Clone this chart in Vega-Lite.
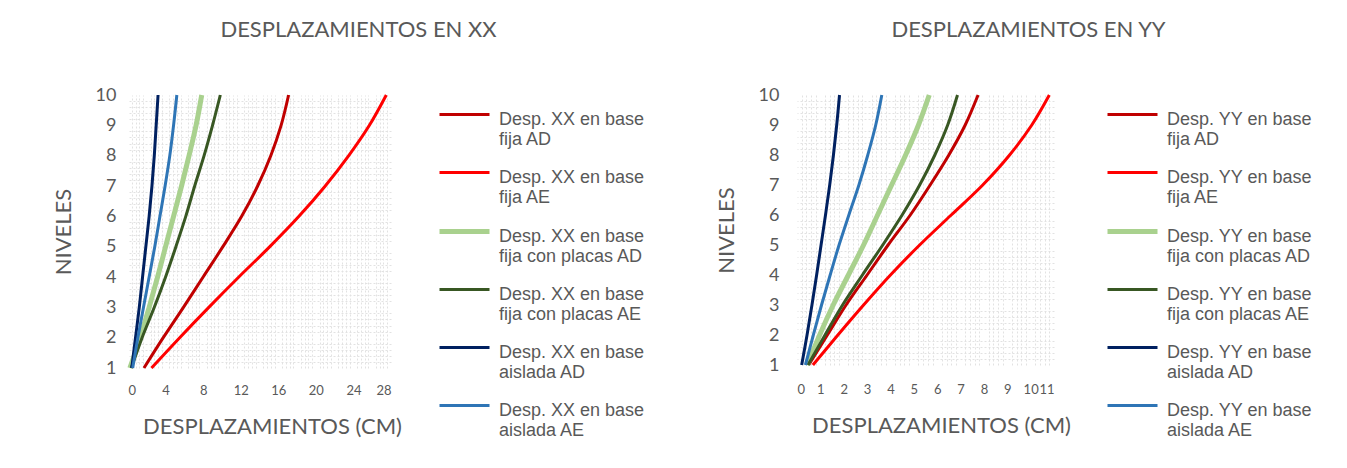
{
  "$schema": "https://vega.github.io/schema/vega-lite/v6.json",
  "background": "white",
  "padding": {"left": 52, "top": 19, "right": 0, "bottom": 0},
  "config": {
    "view": {"stroke": null},
    "font": "Lato",
    "title": {"font": "Lato", "fontSize": 22, "fontWeight": "normal", "color": "#595959", "anchor": "middle", "offset": 43},
    "axis": {
      "domain": false, "ticks": false,
      "gridColor": "#D9D9D9", "gridWidth": 1,
      "labelFont": "Lato", "labelColor": "#595959",
      "titleFont": "Lato", "titleFontSize": 22, "titleFontWeight": "normal", "titleColor": "#595959"
    },
    "legend": {
      "title": null, "orient": "none",
      "symbolType": "M-1,-0.2L1,-0.2", "symbolSize": 2500, "symbolStrokeWidth": 3,
      "labelFont": "Liberation Sans", "labelFontSize": 18, "labelColor": "#595959",
      "labelOffset": 7, "labelLimit": 300, "labelBaseline": "middle",
      "rowPadding": 2, "padding": 0
    }
  },
  "datasets": {
    "xx": [
      {"serie": "Desp. XX en base fija AD", "nivel": 1, "d": 1.7},
      {"serie": "Desp. XX en base fija AD", "nivel": 2, "d": 3.75},
      {"serie": "Desp. XX en base fija AD", "nivel": 3, "d": 5.9},
      {"serie": "Desp. XX en base fija AD", "nivel": 4, "d": 8.0},
      {"serie": "Desp. XX en base fija AD", "nivel": 5, "d": 10.1},
      {"serie": "Desp. XX en base fija AD", "nivel": 6, "d": 12.1},
      {"serie": "Desp. XX en base fija AD", "nivel": 7, "d": 13.8},
      {"serie": "Desp. XX en base fija AD", "nivel": 8, "d": 15.2},
      {"serie": "Desp. XX en base fija AD", "nivel": 9, "d": 16.3},
      {"serie": "Desp. XX en base fija AD", "nivel": 10, "d": 17.1},
      {"serie": "Desp. XX en base fija AE", "nivel": 1, "d": 2.5},
      {"serie": "Desp. XX en base fija AE", "nivel": 2, "d": 5.5},
      {"serie": "Desp. XX en base fija AE", "nivel": 3, "d": 8.6},
      {"serie": "Desp. XX en base fija AE", "nivel": 4, "d": 11.8},
      {"serie": "Desp. XX en base fija AE", "nivel": 5, "d": 15.1},
      {"serie": "Desp. XX en base fija AE", "nivel": 6, "d": 18.2},
      {"serie": "Desp. XX en base fija AE", "nivel": 7, "d": 21.0},
      {"serie": "Desp. XX en base fija AE", "nivel": 8, "d": 23.5},
      {"serie": "Desp. XX en base fija AE", "nivel": 9, "d": 25.7},
      {"serie": "Desp. XX en base fija AE", "nivel": 10, "d": 27.5},
      {"serie": "Desp. XX en base fija con placas AD", "nivel": 1, "d": 0.2},
      {"serie": "Desp. XX en base fija con placas AD", "nivel": 2, "d": 1.3},
      {"serie": "Desp. XX en base fija con placas AD", "nivel": 3, "d": 2.25},
      {"serie": "Desp. XX en base fija con placas AD", "nivel": 4, "d": 3.15},
      {"serie": "Desp. XX en base fija con placas AD", "nivel": 5, "d": 4.0},
      {"serie": "Desp. XX en base fija con placas AD", "nivel": 6, "d": 4.85},
      {"serie": "Desp. XX en base fija con placas AD", "nivel": 7, "d": 5.7},
      {"serie": "Desp. XX en base fija con placas AD", "nivel": 8, "d": 6.5},
      {"serie": "Desp. XX en base fija con placas AD", "nivel": 9, "d": 7.25},
      {"serie": "Desp. XX en base fija con placas AD", "nivel": 10, "d": 7.85},
      {"serie": "Desp. XX en base fija con placas AE", "nivel": 1, "d": 0.35},
      {"serie": "Desp. XX en base fija con placas AE", "nivel": 2, "d": 1.5},
      {"serie": "Desp. XX en base fija con placas AE", "nivel": 3, "d": 2.8},
      {"serie": "Desp. XX en base fija con placas AE", "nivel": 4, "d": 4.0},
      {"serie": "Desp. XX en base fija con placas AE", "nivel": 5, "d": 5.1},
      {"serie": "Desp. XX en base fija con placas AE", "nivel": 6, "d": 6.15},
      {"serie": "Desp. XX en base fija con placas AE", "nivel": 7, "d": 7.1},
      {"serie": "Desp. XX en base fija con placas AE", "nivel": 8, "d": 8.1},
      {"serie": "Desp. XX en base fija con placas AE", "nivel": 9, "d": 9.0},
      {"serie": "Desp. XX en base fija con placas AE", "nivel": 10, "d": 9.83},
      {"serie": "Desp. XX en base aislada AD", "nivel": 1, "d": 0.4},
      {"serie": "Desp. XX en base aislada AD", "nivel": 2, "d": 0.8},
      {"serie": "Desp. XX en base aislada AD", "nivel": 3, "d": 1.2},
      {"serie": "Desp. XX en base aislada AD", "nivel": 4, "d": 1.55},
      {"serie": "Desp. XX en base aislada AD", "nivel": 5, "d": 1.9},
      {"serie": "Desp. XX en base aislada AD", "nivel": 6, "d": 2.25},
      {"serie": "Desp. XX en base aislada AD", "nivel": 7, "d": 2.55},
      {"serie": "Desp. XX en base aislada AD", "nivel": 8, "d": 2.8},
      {"serie": "Desp. XX en base aislada AD", "nivel": 9, "d": 3.0},
      {"serie": "Desp. XX en base aislada AD", "nivel": 10, "d": 3.2},
      {"serie": "Desp. XX en base aislada AE", "nivel": 1, "d": 0.5},
      {"serie": "Desp. XX en base aislada AE", "nivel": 2, "d": 1.05},
      {"serie": "Desp. XX en base aislada AE", "nivel": 3, "d": 1.65},
      {"serie": "Desp. XX en base aislada AE", "nivel": 4, "d": 2.25},
      {"serie": "Desp. XX en base aislada AE", "nivel": 5, "d": 2.85},
      {"serie": "Desp. XX en base aislada AE", "nivel": 6, "d": 3.4},
      {"serie": "Desp. XX en base aislada AE", "nivel": 7, "d": 3.95},
      {"serie": "Desp. XX en base aislada AE", "nivel": 8, "d": 4.45},
      {"serie": "Desp. XX en base aislada AE", "nivel": 9, "d": 4.85},
      {"serie": "Desp. XX en base aislada AE", "nivel": 10, "d": 5.2}
    ],
    "yy": [
      {"serie": "Desp. YY en base fija AD", "nivel": 1, "d": 0.5},
      {"serie": "Desp. YY en base fija AD", "nivel": 2, "d": 1.3},
      {"serie": "Desp. YY en base fija AD", "nivel": 3, "d": 2.1},
      {"serie": "Desp. YY en base fija AD", "nivel": 4, "d": 3.0},
      {"serie": "Desp. YY en base fija AD", "nivel": 5, "d": 3.9},
      {"serie": "Desp. YY en base fija AD", "nivel": 6, "d": 4.85},
      {"serie": "Desp. YY en base fija AD", "nivel": 7, "d": 5.7},
      {"serie": "Desp. YY en base fija AD", "nivel": 8, "d": 6.5},
      {"serie": "Desp. YY en base fija AD", "nivel": 9, "d": 7.2},
      {"serie": "Desp. YY en base fija AD", "nivel": 10, "d": 7.75},
      {"serie": "Desp. YY en base fija AE", "nivel": 1, "d": 0.68},
      {"serie": "Desp. YY en base fija AE", "nivel": 2, "d": 1.75},
      {"serie": "Desp. YY en base fija AE", "nivel": 3, "d": 2.85},
      {"serie": "Desp. YY en base fija AE", "nivel": 4, "d": 4.0},
      {"serie": "Desp. YY en base fija AE", "nivel": 5, "d": 5.25},
      {"serie": "Desp. YY en base fija AE", "nivel": 6, "d": 6.6},
      {"serie": "Desp. YY en base fija AE", "nivel": 7, "d": 7.95},
      {"serie": "Desp. YY en base fija AE", "nivel": 8, "d": 9.1},
      {"serie": "Desp. YY en base fija AE", "nivel": 9, "d": 10.05},
      {"serie": "Desp. YY en base fija AE", "nivel": 10, "d": 10.8},
      {"serie": "Desp. YY en base fija con placas AD", "nivel": 1, "d": 0.44},
      {"serie": "Desp. YY en base fija con placas AD", "nivel": 2, "d": 0.97},
      {"serie": "Desp. YY en base fija con placas AD", "nivel": 3, "d": 1.55},
      {"serie": "Desp. YY en base fija con placas AD", "nivel": 4, "d": 2.2},
      {"serie": "Desp. YY en base fija con placas AD", "nivel": 5, "d": 2.85},
      {"serie": "Desp. YY en base fija con placas AD", "nivel": 6, "d": 3.45},
      {"serie": "Desp. YY en base fija con placas AD", "nivel": 7, "d": 4.05},
      {"serie": "Desp. YY en base fija con placas AD", "nivel": 8, "d": 4.65},
      {"serie": "Desp. YY en base fija con placas AD", "nivel": 9, "d": 5.2},
      {"serie": "Desp. YY en base fija con placas AD", "nivel": 10, "d": 5.66},
      {"serie": "Desp. YY en base fija con placas AE", "nivel": 1, "d": 0.47},
      {"serie": "Desp. YY en base fija con placas AE", "nivel": 2, "d": 1.2},
      {"serie": "Desp. YY en base fija con placas AE", "nivel": 3, "d": 1.95},
      {"serie": "Desp. YY en base fija con placas AE", "nivel": 4, "d": 2.8},
      {"serie": "Desp. YY en base fija con placas AE", "nivel": 5, "d": 3.67},
      {"serie": "Desp. YY en base fija con placas AE", "nivel": 6, "d": 4.5},
      {"serie": "Desp. YY en base fija con placas AE", "nivel": 7, "d": 5.25},
      {"serie": "Desp. YY en base fija con placas AE", "nivel": 8, "d": 5.9},
      {"serie": "Desp. YY en base fija con placas AE", "nivel": 9, "d": 6.45},
      {"serie": "Desp. YY en base fija con placas AE", "nivel": 10, "d": 6.87},
      {"serie": "Desp. YY en base aislada AD", "nivel": 1, "d": 0.2},
      {"serie": "Desp. YY en base aislada AD", "nivel": 2, "d": 0.43},
      {"serie": "Desp. YY en base aislada AD", "nivel": 3, "d": 0.64},
      {"serie": "Desp. YY en base aislada AD", "nivel": 4, "d": 0.84},
      {"serie": "Desp. YY en base aislada AD", "nivel": 5, "d": 1.03},
      {"serie": "Desp. YY en base aislada AD", "nivel": 6, "d": 1.22},
      {"serie": "Desp. YY en base aislada AD", "nivel": 7, "d": 1.4},
      {"serie": "Desp. YY en base aislada AD", "nivel": 8, "d": 1.56},
      {"serie": "Desp. YY en base aislada AD", "nivel": 9, "d": 1.7},
      {"serie": "Desp. YY en base aislada AD", "nivel": 10, "d": 1.82},
      {"serie": "Desp. YY en base aislada AE", "nivel": 1, "d": 0.36},
      {"serie": "Desp. YY en base aislada AE", "nivel": 2, "d": 0.7},
      {"serie": "Desp. YY en base aislada AE", "nivel": 3, "d": 1.05},
      {"serie": "Desp. YY en base aislada AE", "nivel": 4, "d": 1.42},
      {"serie": "Desp. YY en base aislada AE", "nivel": 5, "d": 1.8},
      {"serie": "Desp. YY en base aislada AE", "nivel": 6, "d": 2.22},
      {"serie": "Desp. YY en base aislada AE", "nivel": 7, "d": 2.65},
      {"serie": "Desp. YY en base aislada AE", "nivel": 8, "d": 3.03},
      {"serie": "Desp. YY en base aislada AE", "nivel": 9, "d": 3.37},
      {"serie": "Desp. YY en base aislada AE", "nivel": 10, "d": 3.63}
    ]
  },
  "hconcat": [
    {
      "width": 263,
      "height": 273,
      "title": {"text": "DESPLAZAMIENTOS EN XX", "dx": 99},
      "data": {"name": "xx"},
      "layer": [
        {
          "mark": {"type": "line", "strokeOpacity": 0},
          "encoding": {
            "x": {"field": "d", "type": "quantitative", "scale": {"domain": [0, 28], "nice": false},
              "axis": {"orient": "top", "title": null, "labels": false, "gridColor": "#E2E2E2", "gridDash": [2, 2],
                "values": [0.4,0.8,1.2,1.6,2.4,2.8,3.2,3.6,4.4,4.8,5.2,5.6,6.4,6.8,7.2,7.6,8.4,8.8,9.2,9.6,10.4,10.8,11.2,11.6,12.4,12.8,13.2,13.6,14.4,14.8,15.2,15.6,16.4,16.8,17.2,17.6,18.4,18.8,19.2,19.6,20.4,20.8,21.2,21.6,22.4,22.8,23.2,23.6,24.4,24.8,25.2,25.6,26.4,26.8,27.2,27.6]}},
            "y": {"field": "nivel", "type": "quantitative", "scale": {"domain": [1, 10], "nice": false},
              "axis": {"orient": "right", "title": null, "labels": false, "gridColor": "#E2E2E2", "gridDash": [2, 2],
                "values": [1.2,1.4,1.6,1.8,2.2,2.4,2.6,2.8,3.2,3.4,3.6,3.8,4.2,4.4,4.6,4.8,5.2,5.4,5.6,5.8,6.2,6.4,6.6,6.8,7.2,7.4,7.6,7.8,8.2,8.4,8.6,8.8,9.2,9.4,9.6,9.8]}},
            "detail": {"field": "serie"}
          }
        },
        {
          "mark": {"type": "line", "interpolate": "catmull-rom"},
          "encoding": {
            "x": {"field": "d", "type": "quantitative", "scale": {"domain": [0, 28], "nice": false},
              "axis": {"orient": "bottom", "title": "DESPLAZAMIENTOS (CM)", "titlePadding": 19, "titleX": 144,
                "values": [0,2,4,6,8,10,12,14,16,18,20,22,24,26,28], "labelFontSize": 13, "labelPadding": 16}},
            "y": {"field": "nivel", "type": "quantitative", "scale": {"domain": [1, 10], "nice": false},
              "axis": {"orient": "left", "title": "NIVELES", "titlePadding": 20,
                "values": [1,2,3,4,5,6,7,8,9,10], "labelFontSize": 18, "labelPadding": 12}},
            "order": {"field": "nivel", "type": "quantitative"},
            "color": {"field": "serie", "type": "nominal",
              "scale": {"domain": ["Desp. XX en base fija AD", "Desp. XX en base fija AE", "Desp. XX en base fija con placas AD", "Desp. XX en base fija con placas AE", "Desp. XX en base aislada AD", "Desp. XX en base aislada AE"],
                "range": ["#C00000", "#FF0000", "#A9D18E", "#385723", "#002060", "#2E75B6"]},
              "legend": {"legendX": 309, "legendY": -2, "labelExpr": "split(replace(datum.label, 'en base ', 'en base|'), '|')"}},
            "strokeWidth": {"field": "serie", "type": "nominal",
              "scale": {"type": "ordinal", "domain": ["Desp. XX en base fija AD", "Desp. XX en base fija AE", "Desp. XX en base fija con placas AD", "Desp. XX en base fija con placas AE", "Desp. XX en base aislada AD", "Desp. XX en base aislada AE"],
                "range": [3, 3, 5, 3, 3, 3]},
              "legend": {"legendX": 309, "legendY": -2, "labelExpr": "split(replace(datum.label, 'en base ', 'en base|'), '|')"}}
          }
        }
      ],
      "resolve": {"axis": {"x": "independent", "y": "independent"}}
    },
    {
      "width": 257,
      "height": 270,
      "title": {"text": "DESPLAZAMIENTOS EN YY", "dx": 103},
      "data": {"name": "yy"},
      "layer": [
        {
          "mark": {"type": "line", "strokeOpacity": 0},
          "encoding": {
            "x": {"field": "d", "type": "quantitative", "scale": {"domain": [0, 11], "nice": false},
              "axis": {"orient": "top", "title": null, "labels": false, "gridColor": "#E2E2E2", "gridDash": [2, 2],
                "values": [0.2,0.4,0.6,0.8,1.2,1.4,1.6,1.8,2.2,2.4,2.6,2.8,3.2,3.4,3.6,3.8,4.2,4.4,4.6,4.8,5.2,5.4,5.6,5.8,6.2,6.4,6.6,6.8,7.2,7.4,7.6,7.8,8.2,8.4,8.6,8.8,9.2,9.4,9.6,9.8,10.2,10.4,10.6,10.8]}},
            "y": {"field": "nivel", "type": "quantitative", "scale": {"domain": [1, 10], "nice": false},
              "axis": {"orient": "right", "title": null, "labels": false, "gridColor": "#E2E2E2", "gridDash": [2, 2],
                "values": [1.2,1.4,1.6,1.8,2.2,2.4,2.6,2.8,3.2,3.4,3.6,3.8,4.2,4.4,4.6,4.8,5.2,5.4,5.6,5.8,6.2,6.4,6.6,6.8,7.2,7.4,7.6,7.8,8.2,8.4,8.6,8.8,9.2,9.4,9.6,9.8]}},
            "detail": {"field": "serie"}
          }
        },
        {
          "mark": {"type": "line", "interpolate": "catmull-rom"},
          "encoding": {
            "x": {"field": "d", "type": "quantitative", "scale": {"domain": [0, 11], "nice": false},
              "axis": {"orient": "bottom", "title": "DESPLAZAMIENTOS (CM)", "titlePadding": 19, "titleX": 144,
                "values": [0,1,2,3,4,5,6,7,8,9,10,11], "labelFontSize": 13, "labelPadding": 18}},
            "y": {"field": "nivel", "type": "quantitative", "scale": {"domain": [1, 10], "nice": false},
              "axis": {"orient": "left", "title": "NIVELES", "titlePadding": 20,
                "values": [1,2,3,4,5,6,7,8,9,10], "labelFontSize": 18, "labelPadding": 18}},
            "order": {"field": "nivel", "type": "quantitative"},
            "color": {"field": "serie", "type": "nominal",
              "scale": {"domain": ["Desp. YY en base fija AD", "Desp. YY en base fija AE", "Desp. YY en base fija con placas AD", "Desp. YY en base fija con placas AE", "Desp. YY en base aislada AD", "Desp. YY en base aislada AE"],
                "range": ["#C00000", "#FF0000", "#A9D18E", "#385723", "#002060", "#2E75B6"]},
              "legend": {"legendX": 308, "legendY": -2, "labelExpr": "split(replace(datum.label, 'en base ', 'en base|'), '|')"}},
            "strokeWidth": {"field": "serie", "type": "nominal",
              "scale": {"type": "ordinal", "domain": ["Desp. YY en base fija AD", "Desp. YY en base fija AE", "Desp. YY en base fija con placas AD", "Desp. YY en base fija con placas AE", "Desp. YY en base aislada AD", "Desp. YY en base aislada AE"],
                "range": [3, 3, 5, 3, 3, 3]},
              "legend": {"legendX": 308, "legendY": -2, "labelExpr": "split(replace(datum.label, 'en base ', 'en base|'), '|')"}}
          }
        }
      ],
      "resolve": {"axis": {"x": "independent", "y": "independent"}}
    }
  ],
  "spacing": 70,
  "resolve": {"scale": {"color": "independent", "strokeWidth": "independent"}, "legend": {"color": "independent", "strokeWidth": "independent"}}
}
